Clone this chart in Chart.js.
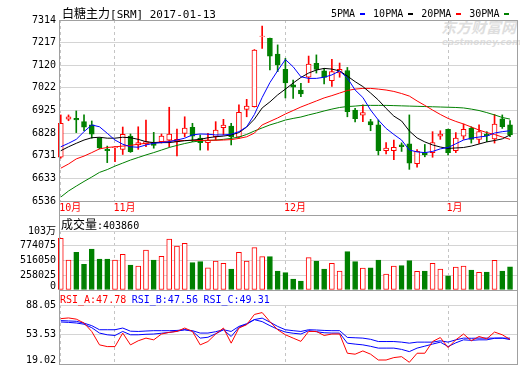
<!DOCTYPE html>
<html lang="zh">
<head>
<meta charset="utf-8">
<title>白糖主力[SRM]</title>
<script src="https://cdn.jsdelivr.net/npm/chart.js@4.4.1/dist/chart.umd.min.js"></script>
<style>
  html, body { margin: 0; padding: 0; background: #fff; }
  #wrap { position: relative; width: 520px; height: 365px; overflow: hidden;
          font-family: 'DejaVu Sans Mono', 'Noto Sans CJK SC', monospace; font-size: 10px; color: #000; }
  #wrap canvas { position: absolute; left: 0; }
  .txt { position: absolute; white-space: nowrap; line-height: 12px; }
  .cjk { font-family: 'Noto Sans CJK SC', sans-serif; font-size: 12px; }
  .key { display: inline-block; margin-right: 8px; }
  .key i { display: inline-block; width: 5px; height: 2px; margin-left: 5px; vertical-align: middle; }
  .rsi { margin-right: 5.5px; }
  #mark1 { left: 441px; top: 21px; font-family: 'Noto Sans CJK SC'; font-weight: bold; font-style: italic; font-size: 15px; color: #dedede; }
  #mark2 { left: 442px; top: 36px; font-family: 'DejaVu Sans'; font-weight: bold; font-style: italic; font-size: 9px; color: #dedede; }
</style>
</head>
<body>
<div id="wrap">
  <div class="txt" id="mark1">东方财富网</div>
  <div class="txt" id="mark2">eastmoney.com</div>
  <canvas id="mainChart" width="520" height="216" style="top:0"></canvas>
  <canvas id="volChart" width="520" height="80" style="top:215px"></canvas>
  <canvas id="rsiChart" width="520" height="75" style="top:290px"></canvas>
  <div class="txt" style="left:62px; top:7px; font-size:11px"><span class="cjk">白糖主力</span>[SRM] 2017-01-13</div>
  <div class="txt" style="left:331px; top:8px">
    <span class="key">5PMA<i style="background:#0000ff"></i></span><span class="key">10PMA<i style="background:#000"></i></span><span class="key">20PMA<i style="background:#ff0000"></i></span><span class="key">30PMA<i style="background:#008000"></i></span>
  </div>
  <div class="txt" id="volHead" style="left:61px; top:218px"></div>
  <div class="txt" id="rsiHead" style="left:60px; top:294px"></div>
</div>
<script>
// daily candles, 2016-10-21 .. 2017-01-13
const opens = [6724, 6888, 6891, 6877, 6863, 6806, 6758, 6765, 6758, 6815,
  6777, 6781, 6787, 6791, 6798, 6791, 6827, 6853, 6806, 6787,
  6812, 6851, 6858, 6810, 6930, 6941, 7243, 7235, 7168, 7102,
  7035, 7013, 7068, 7128, 7095, 7053, 7087, 7097, 6927, 6905,
  6877, 6863, 6752, 6752, 6777, 6782, 6696, 6744, 6744, 6815,
  6844, 6752, 6815, 6849, 6801, 6824, 6803, 6889, 6863];
const highs = [6906, 6906, 6923, 6906, 6880, 6808, 6772, 6770, 6854, 6824,
  6855, 6884, 6831, 6824, 6939, 6845, 6898, 6870, 6820, 6827,
  6877, 6887, 6870, 6949, 6973, 7187, 7288, 7236, 7207, 7149,
  7056, 7042, 7159, 7164, 7106, 7145, 7129, 7110, 6934, 6949,
  6887, 6884, 6787, 6798, 6786, 6906, 6757, 6779, 6834, 6838,
  6845, 6830, 6867, 6855, 6863, 6834, 6908, 6906, 6882];
const lows = [6720, 6881, 6830, 6838, 6806, 6760, 6701, 6705, 6736, 6745,
  6758, 6769, 6763, 6785, 6769, 6730, 6812, 6791, 6755, 6755,
  6798, 6820, 6777, 6806, 6898, 6940, 7192, 7099, 7092, 6979,
  6977, 6984, 7045, 7086, 7039, 7028, 7068, 6898, 6876, 6877,
  6838, 6734, 6738, 6714, 6749, 6672, 6681, 6726, 6724, 6801,
  6734, 6744, 6801, 6785, 6784, 6791, 6785, 6848, 6813];
const closes = [6870, 6898, 6884, 6853, 6823, 6764, 6752, 6768, 6823, 6748,
  6787, 6791, 6775, 6815, 6824, 6801, 6849, 6815, 6787, 6798,
  6841, 6862, 6812, 6917, 6944, 7185, 7245, 7159, 7121, 7044,
  7025, 6996, 7124, 7102, 7067, 7092, 7102, 6920, 6890, 6916,
  6863, 6752, 6763, 6767, 6769, 6699, 6749, 6734, 6787, 6824,
  6744, 6806, 6844, 6801, 6834, 6817, 6867, 6855, 6820];

const ma5 = [6769, 6784, 6801, 6834, 6863, 6855, 6827, 6798, 6780, 6769,
  6767, 6777, 6784, 6787, 6791, 6798, 6806, 6820, 6824, 6823,
  6820, 6820, 6823, 6834, 6855, 6908, 6981, 7045, 7096, 7144,
  7113, 7070, 7063, 7063, 7068, 7078, 7095, 7065, 7013, 6981,
  6927, 6884, 6848, 6822, 6798, 6755, 6747, 6744, 6749, 6760,
  6766, 6782, 6798, 6806, 6811, 6815, 6828, 6834, 6838];
const ma10 = [6752, 6769, 6784, 6798, 6808, 6810, 6806, 6806, 6810, 6808,
  6801, 6791, 6787, 6787, 6787, 6791, 6795, 6798, 6801, 6808,
  6812, 6815, 6820, 6830, 6854, 6888, 6936, 6962, 6992, 7017,
  7043, 7067, 7086, 7099, 7106, 7103, 7095, 7073, 7049, 7028,
  7000, 6970, 6934, 6901, 6880, 6837, 6807, 6790, 6777, 6768,
  6762, 6764, 6766, 6772, 6781, 6790, 6796, 6803, 6820];
const ma20 = [6677, 6695, 6717, 6729, 6744, 6760, 6766, 6769, 6772, 6775,
  6780, 6784, 6787, 6790, 6794, 6795, 6796, 6796, 6796, 6797,
  6797, 6798, 6800, 6805, 6812, 6828, 6863, 6878, 6893, 6910,
  6925, 6940, 6953, 6966, 6979, 6989, 7000, 7011, 7017, 7020,
  7020, 7017, 7013, 7007, 6998, 6987, 6966, 6947, 6927, 6908,
  6891, 6878, 6867, 6854, 6841, 6830, 6822, 6811, 6801];
const ma30 = [6553, 6579, 6600, 6620, 6639, 6659, 6671, 6686, 6699, 6712,
  6723, 6734, 6744, 6755, 6766, 6775, 6783, 6790, 6794, 6796,
  6798, 6801, 6805, 6811, 6822, 6837, 6850, 6863, 6873, 6884,
  6891, 6897, 6906, 6914, 6923, 6931, 6938, 6942, 6944, 6947,
  6947, 6947, 6947, 6946, 6945, 6944, 6943, 6942, 6941, 6940,
  6939, 6938, 6936, 6931, 6925, 6916, 6906, 6895, 6888];

const volumes = [904000, 525000, 659000, 450000, 717000, 542000, 542000, 525000, 624000, 437000,
  420000, 700000, 525000, 590000, 892000, 770000, 817000, 478000, 495000, 390000,
  507000, 467000, 367000, 659000, 507000, 740000, 583000, 583000, 332000, 303000,
  192000, 157000, 565000, 507000, 367000, 467000, 332000, 670000, 495000, 385000,
  390000, 525000, 280000, 420000, 425000, 513000, 327000, 332000, 467000, 367000,
  250000, 402000, 420000, 350000, 310000, 315000, 520000, 332000, 403860];

const rsiA = [72.1, 72.9, 71.5, 67.0, 57.0, 41.4, 39.4, 39.4, 55.2, 41.4,
  46.2, 49.3, 47.3, 54.1, 56.0, 57.1, 61.1, 57.1, 41.4, 45.3,
  54.1, 61.1, 43.4, 61.1, 65.0, 77.0, 79.2, 68.6, 59.1, 53.2,
  49.3, 45.5, 57.1, 57.1, 52.4, 54.1, 54.1, 31.6, 30.5, 34.3,
  30.5, 23.7, 23.7, 26.5, 27.6, 21.0, 31.6, 31.6, 45.3, 50.0,
  38.2, 47.3, 54.1, 46.2, 51.2, 48.5, 56.4, 53.2, 47.78];
const rsiB = [68.2, 67.7, 67.0, 65.6, 61.5, 55.2, 53.2, 52.4, 57.1, 53.2,
  53.2, 53.8, 54.1, 55.0, 56.0, 57.4, 59.1, 57.4, 49.3, 50.3,
  54.4, 59.1, 51.2, 61.9, 65.6, 70.9, 68.6, 63.9, 59.7, 56.4,
  55.0, 54.1, 58.0, 56.8, 55.6, 55.2, 55.2, 43.4, 42.3, 41.4,
  39.7, 37.6, 37.6, 37.6, 36.1, 33.5, 37.6, 39.9, 42.3, 44.6,
  39.4, 43.8, 47.3, 46.7, 47.3, 47.3, 49.1, 49.3, 47.56];
const rsiC = [69.8, 69.4, 69.0, 66.8, 63.9, 59.1, 59.1, 59.1, 61.1, 57.4,
  57.1, 57.6, 58.0, 58.0, 58.0, 58.3, 59.1, 58.0, 55.2, 55.2,
  56.8, 59.1, 57.1, 63.0, 66.2, 71.0, 72.7, 68.0, 63.0, 59.1,
  58.0, 57.1, 59.1, 58.8, 58.3, 58.0, 58.0, 50.1, 49.7, 49.3,
  47.9, 45.3, 45.3, 45.3, 44.6, 43.4, 44.6, 44.6, 44.6, 46.2,
  44.6, 47.3, 49.3, 49.1, 49.3, 49.3, 49.3, 49.3, 49.31];

// axis labels
const monthIdx = [0, 7, 29, 50];
const monthNames = ['10月', '11月', '12月', '1月'];
const priceTicks = [6536, 6633.25, 6730.5, 6827.75, 6925, 7022.25, 7119.5, 7216.75, 7314];
const volTicks = [0, 258025, 516050, 774075, 1032100];
const volTickLabels = ['0', '258025', '516050', '774075', '103万'];
const rsiTicks = [19.02, 53.535, 88.05];
const rsiTickLabels = ['19.02', '53.53', '88.05'];

const RED = '#ff0000', GREEN = '#008000', BLUE = '#0000ff';
const GRID = '#d4d4d4', DASH = '#c4c4c4', FRAME = '#a0a0a0';
const FONT = { family: "'DejaVu Sans Mono', 'Noto Sans CJK SC', monospace", size: 10, lineHeight: 0.8 };
const X_MIN = -0.1, X_MAX = 58.9;

const up = closes.map((c, i) => c >= opens[i]);
const pts = arr => arr.map((v, i) => ({ x: i, y: v }));

// box around each panel
const framePlugin = {
  id: 'frame',
  afterDraw(chart, args, opts) {
    const a = chart.chartArea, ctx = chart.ctx;
    const left = Math.round(a.left) - 0.5;
    const right = Math.round(a.right) + 0.5;
    const top = opts.top != null ? opts.top : Math.round(a.top) + 0.5;
    const bottom = opts.bottom != null ? opts.bottom : Math.round(a.bottom) + 0.5;
    ctx.save();
    ctx.strokeStyle = FRAME;
    ctx.lineWidth = 1;
    ctx.strokeRect(left, top, right - left, bottom - top);
    if (opts.split) {
      const y = Math.round(a.bottom) + 0.5;
      ctx.beginPath();
      ctx.moveTo(left, y);
      ctx.lineTo(right, y);
      ctx.stroke();
    }
    ctx.restore();
  }
};

// fixed axis sizes, no extra room for overhanging labels
function noPadding(s) {
  s.paddingTop = 0;
  s.paddingBottom = 0;
  s.paddingLeft = 0;
  s.paddingRight = 0;
}

function monthAxis(showLabels) {
  return {
    type: 'linear', min: X_MIN, max: X_MAX, offset: false,
    grid: { offset: false, color: DASH, drawTicks: false },
    border: { display: false, dash: [3, 3] },
    ticks: {
      display: showLabels, color: RED, font: FONT, padding: 3, autoSkip: false,
      maxRotation: 0, align: 'start', labelOffset: -1.5,
      callback: v => monthNames[monthIdx.indexOf(v)]
    },
    afterBuildTicks: s => { s.ticks = monthIdx.map(v => ({ value: v })); },
    afterFit: s => { s.height = showLabels ? 15 : 0; noPadding(s); }
  };
}

function valueAxis(min, max, ticks, labelFor) {
  return {
    min: min, max: max,
    grid: { color: GRID, drawTicks: false },
    border: { display: false },
    ticks: {
      color: '#000', font: FONT, padding: 4, autoSkip: false,
      // bottom label sits a few pixels higher, like the original
      callback: (v, i) => i === 0 && min !== 6536 ? [labelFor(v, i), ''] : labelFor(v, i)
    },
    afterBuildTicks: s => { s.ticks = ticks.map(v => ({ value: v })); },
    afterFit: s => { s.width = 60; noPadding(s); }
  };
}

const common = {
  responsive: false, animation: false, devicePixelRatio: 1, events: []
};

function line(data, color) {
  return { type: 'line', data: pts(data), borderColor: color, borderWidth: 1,
    pointRadius: 0, fill: false, tension: 0, order: 1 };
}

new Chart(document.getElementById('mainChart'), {
  type: 'bar',
  data: {
    datasets: [
      { data: closes.map((c, i) => ({ x: i, y: [lows[i], highs[i]] })),
        backgroundColor: up.map(u => u ? RED : GREEN),
        barThickness: 1, grouped: false, order: 3, clip: false },
      { data: closes.map((c, i) => ({ x: i, y: [opens[i], c] })),
        backgroundColor: up.map(u => u ? '#fff' : GREEN),
        borderColor: up.map(u => u ? RED : GREEN),
        borderWidth: 1, borderSkipped: false,
        barThickness: 5, grouped: false, order: 2, clip: false },
      line(ma5, BLUE),
      line(ma10, '#000'),
      line(ma20, RED),
      line(ma30, GREEN)
    ]
  },
  options: Object.assign({}, common, {
    layout: { autoPadding: false, padding: { top: 20, right: 3, left: 0, bottom: 0 } },
    plugins: { legend: { display: false }, tooltip: { enabled: false },
      frame: { bottom: 215.5, split: true } },
    scales: {
      x: monthAxis(true),
      y: valueAxis(6536, 7314, priceTicks, v => String(Math.round(v)))
    }
  }),
  plugins: [framePlugin]
});

new Chart(document.getElementById('volChart'), {
  type: 'bar',
  data: {
    datasets: [{
      data: pts(volumes),
      backgroundColor: up.map(u => u ? '#fff' : GREEN),
      borderColor: up.map(u => u ? RED : GREEN),
      borderWidth: 1, borderSkipped: false,
      barThickness: 5, grouped: false, clip: false
    }]
  },
  options: Object.assign({}, common, {
    layout: { autoPadding: false, padding: { top: 16, right: 3, left: 0, bottom: 5 } },
    plugins: { legend: { display: false }, tooltip: { enabled: false },
      frame: { top: 0.5 } },
    scales: {
      x: monthAxis(false),
      y: valueAxis(0, 1032100, volTicks, (v, i) => volTickLabels[i])
    }
  }),
  plugins: [framePlugin]
});

new Chart(document.getElementById('rsiChart'), {
  type: 'line',
  data: {
    datasets: [line(rsiA, RED), line(rsiB, BLUE), line(rsiC, BLUE)]
  },
  options: Object.assign({}, common, {
    layout: { autoPadding: false, padding: { top: 15, right: 3, left: 0, bottom: 1 } },
    plugins: { legend: { display: false }, tooltip: { enabled: false },
      frame: { top: 0.5 } },
    scales: {
      x: monthAxis(false),
      y: valueAxis(19.02, 88.05, rsiTicks, (v, i) => rsiTickLabels[i])
    }
  }),
  plugins: [framePlugin]
});

document.getElementById('volHead').innerHTML =
  '<span class="cjk">成交量</span>:' + volumes[volumes.length - 1];

const rsiLast = [['RSI_A', rsiA, RED], ['RSI_B', rsiB, BLUE], ['RSI_C', rsiC, BLUE]];
document.getElementById('rsiHead').innerHTML = rsiLast.map(([name, arr, color]) =>
  `<span class="rsi" style="color:${color}">${name}:${arr[arr.length - 1].toFixed(2)}</span>`
).join('');
</script>
</body>
</html>
